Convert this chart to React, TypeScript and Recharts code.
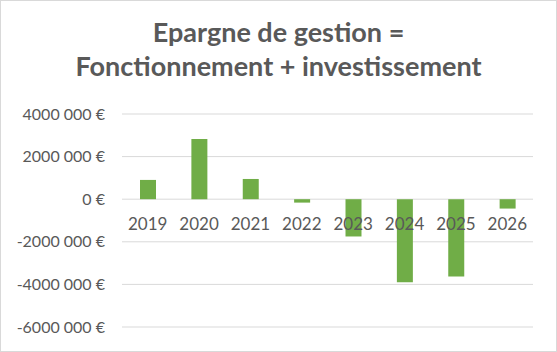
import React from 'react';
import { Bar, BarChart, CartesianGrid, XAxis, YAxis } from 'recharts';

const years = ['2019', '2020', '2021', '2022', '2023', '2024', '2025', '2026'];
const epargne = [905000, 2830000, 950000, -160000, -1750000, -3900000, -3630000, -440000];
const yTicks = [-6000000, -4000000, -2000000, 0, 2000000, 4000000];

const Y_MIN = -6000000;
const Y_MAX = 4000000;
const WIDTH = 557;
const HEIGHT = 352;
const X_AXIS_H = 25;
const MARGIN = { top: 114, right: 24, bottom: 0, left: 0 };
const PLOT_H = HEIGHT - MARGIN.top - MARGIN.bottom - X_AXIS_H;
const ZERO_Y = MARGIN.top + ((Y_MAX - 0) / (Y_MAX - Y_MIN)) * PLOT_H;

const TEXT = '#595959';
const FONT = 'Lato, "Open Sans", sans-serif';

const chartData = years.map((year, i) => ({ year, value: epargne[i] }));

const formatEuro = (v: number) => (v === 0 ? '0 €' : `${v / 1000} 000 €`);

// category labels sit just under the zero line, like in Excel
const renderCategoryTick = (props: any) => {
  const { x, payload } = props;
  return (
    <text x={x} y={ZERO_Y + 31} textAnchor="middle" fill={TEXT} fontSize={17} fontFamily={FONT}>
      {payload.value}
    </text>
  );
};

export default function App() {
  return (
    <div style={{ position: 'absolute', left: 0, top: 0, width: WIDTH, height: HEIGHT, background: '#fff' }}>
      <div
        style={{
          position: 'absolute',
          left: 0,
          top: 15,
          width: WIDTH,
          textAlign: 'center',
          fontFamily: FONT,
          fontWeight: 700,
          fontSize: 27,
          lineHeight: '34px',
          color: TEXT,
        }}
      >
        Epargne de gestion =<br />
        Fonctionnement + investissement
      </div>
      <BarChart width={WIDTH} height={HEIGHT} data={chartData} margin={MARGIN}>
        <CartesianGrid vertical={false} stroke="#D9D9D9" />
        <XAxis
          dataKey="year"
          height={X_AXIS_H}
          axisLine={false}
          tickLine={false}
          tick={renderCategoryTick}
          interval={0}
        />
        <YAxis
          width={122}
          domain={[Y_MIN, Y_MAX]}
          ticks={yTicks}
          tickFormatter={formatEuro}
          axisLine={false}
          tickLine={false}
          tickSize={0}
          tickMargin={17}
          tick={{ fill: TEXT, fontSize: 16, fontFamily: FONT }}
        />
        <Bar dataKey="value" fill="#70AD47" barSize={16} isAnimationActive={false} />
      </BarChart>
      <div
        style={{
          position: 'absolute',
          left: 0,
          top: 0,
          width: WIDTH,
          height: HEIGHT,
          boxSizing: 'border-box',
          border: '1px solid #D9D9D9',
          pointerEvents: 'none',
        }}
      />
    </div>
  );
}
